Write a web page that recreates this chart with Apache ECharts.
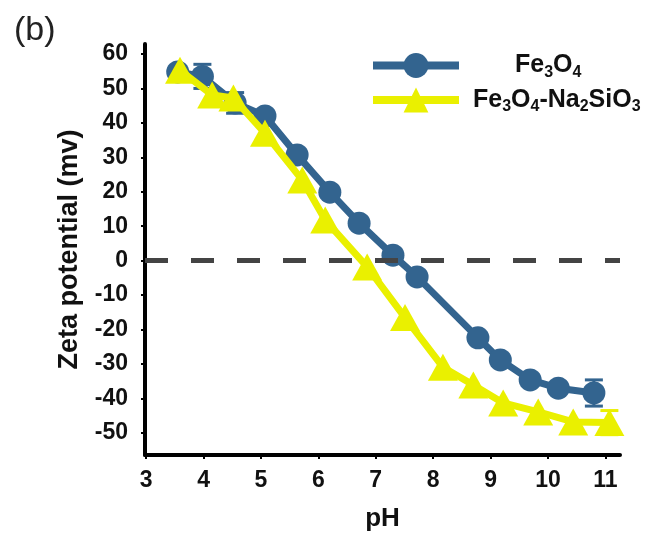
<!DOCTYPE html>
<html>
<head>
<meta charset="utf-8">
<script src="https://cdn.jsdelivr.net/npm/echarts@6/dist/echarts.min.js"></script>
<style>
html,body{margin:0;padding:0;background:#fff;}
#chart{width:649px;height:533px;}
</style>
</head>
<body>
<div id="chart"></div>
<script>
// ---- data ----
const xTicks = [3, 4, 5, 6, 7, 8, 9, 10, 11];
const yTicks = [-50, -40, -30, -20, -10, 0, 10, 20, 30, 40, 50, 60];

const pHFe3O4   = [3.55, 3.98, 4.55, 5.07, 5.63, 6.2, 6.71, 7.3, 7.72, 8.78, 9.17, 9.69, 10.18, 10.8];
const zetaFe3O4 = [54.8, 53.5, 45.8, 42.0, 30.7, 19.9, 10.9, 1.6, -4.7, -22.4, -28.8, -34.6, -37.0, -38.4];
const errFe3O4  = [0, 3.5, 3.0, 0, 0, 0, 0, 0, 0, 0, 0, 0, 0, 3.8];

const pHSil   = [3.59, 4.15, 4.52, 5.07, 5.72, 6.12, 6.85, 7.51, 8.17, 8.7, 9.22, 9.83, 10.44, 11.07];
const zetaSil = [55.3, 48.1, 47.2, 37.0, 23.4, 11.8, -1.8, -16.5, -30.9, -36.1, -41.3, -43.9, -46.8, -47.0];
const errSil  = [0, 0, 0, 0, 0, 0, 0, 0, 0, 0, 0, 0, 0, 3.5];

const BLUE = '#33648f';
const YELLOW = '#eaf000';
const FONT = 'Liberation Sans, Arial, sans-serif';

const blueData = pHFe3O4.map((x, i) => [x, zetaFe3O4[i]]);
const silData = pHSil.map((x, i) => [x, zetaSil[i]]);
const blueErr = pHFe3O4.map((x, i) => [x, zetaFe3O4[i], errFe3O4[i]]).filter(d => d[2] > 0);
const silErr = pHSil.map((x, i) => [x, zetaSil[i], errSil[i]]).filter(d => d[2] > 0);

function errRender(color) {
  return function (params, api) {
    const x = api.value(0), y = api.value(1), e = api.value(2);
    const top = api.coord([x, y + e]);
    const bot = api.coord([x, y - e]);
    const hw = 9;
    const st = { stroke: color, lineWidth: 3 };
    return {
      type: 'group',
      children: [
        { type: 'line', shape: { x1: top[0], y1: top[1], x2: bot[0], y2: bot[1] }, style: st },
        { type: 'line', shape: { x1: top[0] - hw, y1: top[1], x2: top[0] + hw, y2: top[1] }, style: st },
        { type: 'line', shape: { x1: bot[0] - hw, y1: bot[1], x2: bot[0] + hw, y2: bot[1] }, style: st }
      ]
    };
  };
}

const chart = echarts.init(document.getElementById('chart'), null, { renderer: 'canvas' });

const legendRich = {
  sp: { width: 42 },
  n: { fontSize: 25, fontWeight: 'bold', fontFamily: FONT, color: '#111', verticalAlign: 'middle', lineHeight: 30 },
  s: { fontSize: 16, fontWeight: 'bold', fontFamily: FONT, color: '#111', verticalAlign: 'bottom', lineHeight: 16 }
};

chart.setOption({
  animation: false,
  backgroundColor: '#fff',
  title: {
    text: '(b)', left: 9, top: 9,
    textStyle: { fontSize: 34, fontWeight: 'normal', fontFamily: FONT, color: '#222' }
  },
  legend: {
    orient: 'vertical',
    left: 364, top: 48,
    itemWidth: 86, itemHeight: 31, itemGap: 7,
    lineStyle: { width: 8 },
    textStyle: { rich: legendRich, padding: [0, 0, 0, 9] },
    data: ['Fe3O4', 'Fe3O4-Na2SiO3'],
    formatter: function (name) {
      if (name === 'Fe3O4') return '{sp|}{n|Fe}{s|3}{n|O}{s|4}';
      return '{n|Fe}{s|3}{n|O}{s|4}{n|-Na}{s|2}{n|SiO}{s|3}';
    }
  },
  grid: { left: 145, right: 29, top: 44, bottom: 78, containLabel: false, outerBoundsMode: 'none' },
  xAxis: {
    type: 'value',
    min: 2.98, max: 11.255,
    name: 'pH', nameLocation: 'middle', nameGap: 51,
    nameTextStyle: { fontSize: 26, fontWeight: 'bold', fontFamily: FONT, color: '#111' },
    axisLine: { show: true, onZero: false, lineStyle: { color: '#000', width: 4 } },
    axisTick: { show: true, customValues: xTicks, length: 4, lineStyle: { color: '#000', width: 2 } },
    axisLabel: { customValues: xTicks, margin: 14, fontSize: 23, fontWeight: 'bold', fontFamily: FONT, color: '#111' },
    splitLine: { show: false }
  },
  yAxis: {
    type: 'value',
    min: -56.4, max: 62.9,
    name: 'Zeta potential (mv)', nameLocation: 'middle', nameGap: 62, nameRotate: 90,
    nameTextStyle: { fontSize: 27, fontWeight: 'bold', fontFamily: FONT, color: '#111' },
    axisLine: { show: true, onZero: false, lineStyle: { color: '#000', width: 4 } },
    axisTick: { show: true, customValues: yTicks, length: 4, lineStyle: { color: '#000', width: 2 } },
    axisLabel: { customValues: yTicks, margin: 17, fontSize: 23, fontWeight: 'bold', fontFamily: FONT, color: '#111' },
    splitLine: { show: false }
  },
  series: [
    {
      type: 'custom', name: 'errFe3O4', data: blueErr, renderItem: errRender(BLUE), z: 1, silent: true
    },
    {
      type: 'line', name: 'Fe3O4', data: blueData,
      symbol: 'circle', symbolSize: 23,
      lineStyle: { color: BLUE, width: 7 },
      itemStyle: { color: BLUE },
      z: 2,
      markLine: {
        silent: true, symbol: 'none', label: { show: false },
        lineStyle: { color: '#444', width: 5, type: [23, 23] },
        data: [{ yAxis: 0 }]
      }
    },
    {
      type: 'custom', name: 'errSil', data: silErr, renderItem: errRender(YELLOW), z: 3, silent: true
    },
    {
      type: 'line', name: 'Fe3O4-Na2SiO3', data: silData,
      symbol: 'triangle', symbolSize: [30, 27],
      lineStyle: { color: YELLOW, width: 7 },
      itemStyle: { color: YELLOW },
      z: 4
    }
  ]
});
</script>
</body>
</html>
